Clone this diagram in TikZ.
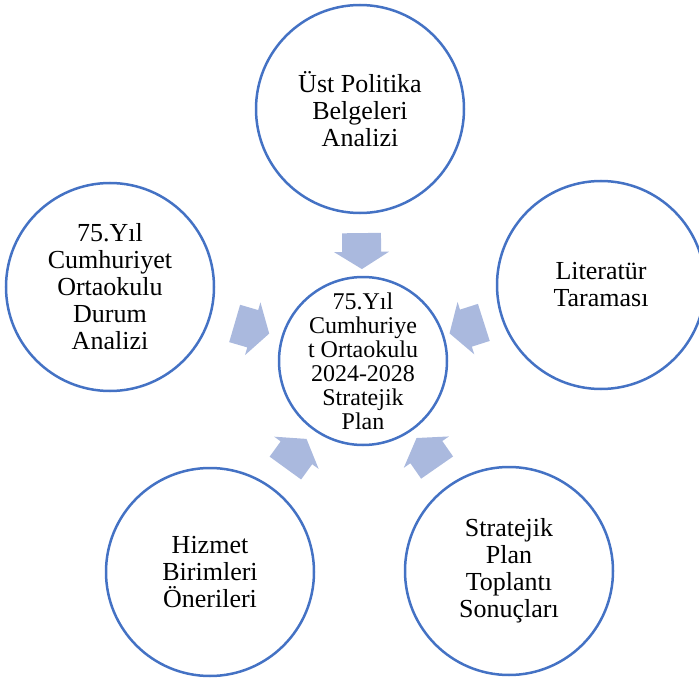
\documentclass[tikz,border=0pt]{standalone}
\usepackage{fontspec}
\setmainfont{Liberation Serif}
\usepackage{xcolor}
\usepackage{tikz}
\usetikzlibrary{shapes,arrows,positioning,calc}

\definecolor{ringblue}{RGB}{68,114,196}
\definecolor{arrowblue}{RGB}{170,185,222}

\begin{document}
\begin{tikzpicture}[x=1pt,y=-1pt,
    ring/.style={draw=ringblue,line width=2.5pt,circle,minimum size=208pt,inner sep=0pt,align=center,font=\fontsize{26}{27}\selectfont},
    hub/.style={draw=ringblue,line width=2.5pt,circle,minimum size=168pt,inner sep=0pt},
    hubtext/.style={align=center,font=\fontsize{24}{24}\selectfont},
    feed/.style={single arrow,fill=arrowblue,draw=none,minimum height=36pt,minimum width=55pt,inner xsep=0pt,inner ysep=17pt,single arrow tip angle=116,sloped,allow upside down}]
    \useasboundingbox (0,0) rectangle (699,682);

    % Center
    \node[hub] (plan) at (363,361) {};
    \node[hubtext] (plantext) at (plan.center) {75.Yıl\\Cumhuriye\\t Ortaokulu\\2024-2028\\Stratejik\\Plan};

    % Outer circles
    \node[ring] (ust) at (360,109) {Üst Politika\\Belgeleri\\Analizi};
    \node[ring] (durum) at (110,287) {75.Yıl\\Cumhuriyet\\Ortaokulu\\Durum\\Analizi};
    \node[ring] (literatur) at (601,285) {Literatür\\Taraması};
    \node[ring] (hizmet) at (210,572) {Hizmet\\Birimleri\\Önerileri};
    \node[ring] (toplanti) at (509,571) {Stratejik\\Plan\\Toplantı\\Sonuçları};

    % Arrows into the plan
    \path (ust) -- node[feed] (a1) {} (plan);
    \path (durum) -- node[feed] (a2) {} (plan);
    \path (literatur) -- node[feed] (a3) {} (plan);
    \path (hizmet) -- node[feed] (a4) {} (plan);
    \path (toplanti) -- node[feed] (a5) {} (plan);
\end{tikzpicture}
\end{document}
